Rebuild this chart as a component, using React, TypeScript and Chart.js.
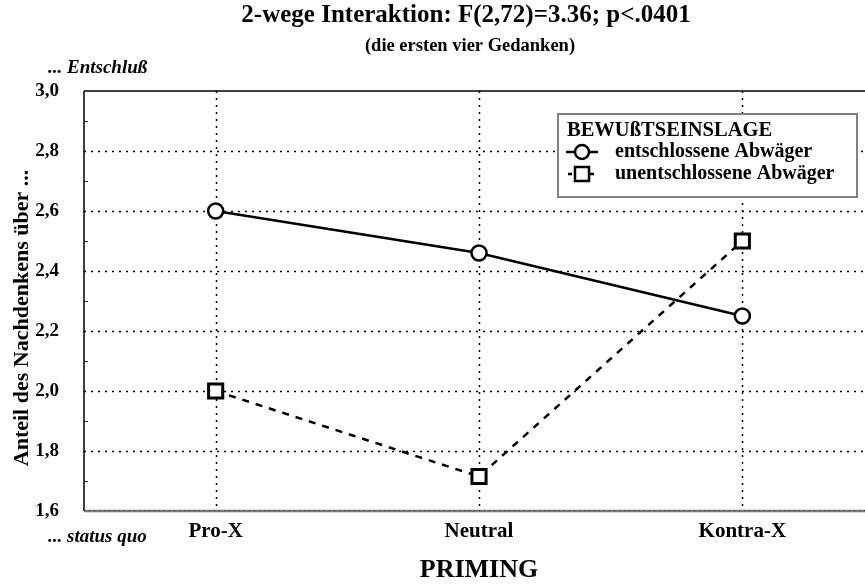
import React, { useEffect, useRef } from "react";
import { Chart, registerables } from "chart.js";

Chart.register(...registerables);

const categories = ["Pro-X", "Neutral", "Kontra-X"];
const entschlossene = [2.6, 2.46, 2.25];
const unentschlossene = [2.0, 1.715, 2.5];
const seriesLabels = ["entschlossene Abwäger", "unentschlossene Abwäger"];
const yMin = 1.6;
const yMax = 3.0;
const yStep = 0.2;
const titleText = "2-wege Interaktion: F(2,72)=3.36; p<.0401";
const subtitleText = "(die ersten vier Gedanken)";
const legendTitle = "BEWUßTSEINSLAGE";
const yAxisTitle = "Anteil des Nachdenkens über ...";
const xAxisTitle = "PRIMING";
const topNote = "... Entschluß";
const bottomNote = "... status quo";

const SERIF = '"Liberation Serif", "Times New Roman", serif';

const decorPlugin = {
  id: "decor",
  beforeDatasetsDraw(chart: any) {
    const ctx = chart.ctx;
    const area = chart.chartArea;
    const x = chart.scales.x;
    const y = chart.scales.y;
    ctx.save();
    ctx.strokeStyle = "#000";
    ctx.lineWidth = 1.5;
    ctx.setLineDash([2, 5]);
    for (let v = yMin + yStep; v < yMax - 1e-6; v += yStep) {
      const py = Math.round(y.getPixelForValue(v)) + 0.5;
      ctx.beginPath();
      ctx.moveTo(area.left, py);
      ctx.lineTo(area.right, py);
      ctx.stroke();
    }
    categories.forEach((_, i) => {
      const px = Math.round(x.getPixelForValue(i)) + 0.5;
      ctx.beginPath();
      ctx.moveTo(px, area.top);
      ctx.lineTo(px, area.bottom);
      ctx.stroke();
    });
    ctx.setLineDash([]);
    ctx.lineWidth = 1;
    ctx.strokeStyle = "#333";
    for (let v = yMin + yStep / 2; v < yMax; v += yStep) {
      const py = Math.round(y.getPixelForValue(v)) + 0.5;
      ctx.beginPath();
      ctx.moveTo(area.left, py);
      ctx.lineTo(area.left + 4, py);
      ctx.stroke();
    }
    ctx.strokeStyle = "#000";
    ctx.lineWidth = 1.5;
    ctx.beginPath();
    ctx.moveTo(area.left, area.top);
    ctx.lineTo(area.right, area.top);
    ctx.moveTo(area.left, area.top);
    ctx.lineTo(area.left, area.bottom);
    ctx.stroke();
    ctx.strokeStyle = "#7a7a7a";
    ctx.lineWidth = 2.5;
    ctx.beginPath();
    ctx.moveTo(area.left, area.bottom);
    ctx.lineTo(area.right, area.bottom);
    ctx.stroke();
    ctx.strokeStyle = "#333";
    ctx.lineWidth = 1;
    ctx.setLineDash([1, 4]);
    ctx.beginPath();
    ctx.moveTo(area.left, area.bottom - 0.5);
    ctx.lineTo(area.right, area.bottom - 0.5);
    ctx.stroke();
    ctx.restore();
  },
  afterDraw(chart: any) {
    const ctx = chart.ctx;
    const x = chart.scales.x;
    ctx.save();
    ctx.fillStyle = "#000";
    ctx.textAlign = "center";
    ctx.textBaseline = "middle";
    ctx.font = `bold 25px ${SERIF}`;
    ctx.fillText(titleText, 466, 16);
    ctx.font = `bold 18.5px ${SERIF}`;
    ctx.fillText(subtitleText, 470, 46);
    ctx.font = `bold 26px ${SERIF}`;
    ctx.fillText(xAxisTitle, x.getPixelForValue(1), 570);
    ctx.textAlign = "left";
    ctx.font = `italic bold 19px ${SERIF}`;
    ctx.fillText(topNote, 48, 68);
    ctx.fillText(bottomNote, 48, 537);
    ctx.save();
    ctx.translate(22, 318);
    ctx.rotate(-Math.PI / 2);
    ctx.textAlign = "center";
    ctx.font = `bold 22px ${SERIF}`;
    ctx.fillText(yAxisTitle, 0, 0);
    ctx.restore();
    // legend
    const bx = 558, by = 114, bw = 299, bh = 83;
    ctx.fillStyle = "#fff";
    ctx.fillRect(bx, by, bw, bh);
    ctx.strokeStyle = "#808080";
    ctx.lineWidth = 2;
    ctx.strokeRect(bx, by, bw, bh);
    ctx.fillStyle = "#000";
    ctx.textAlign = "left";
    ctx.font = `bold 20.5px ${SERIF}`;
    ctx.fillText(legendTitle, 567, 131);
    ctx.font = `bold 20px ${SERIF}`;
    const ds = chart.data.datasets;
    const rows = [152, 174];
    ds.forEach((d: any, i: number) => {
      const ry = rows[i];
      ctx.strokeStyle = "#000";
      ctx.lineWidth = 2.5;
      ctx.beginPath();
      if (d.borderDash) {
        ctx.moveTo(568, ry);
        ctx.lineTo(572, ry);
        ctx.moveTo(586, ry);
        ctx.lineTo(594, ry);
      } else {
        ctx.moveTo(566, ry);
        ctx.lineTo(598, ry);
      }
      ctx.stroke();
      ctx.fillStyle = "#fff";
      ctx.beginPath();
      if (d.pointStyle === "rect") {
        ctx.rect(575, ry - 7, 14, 14);
      } else {
        ctx.arc(582, ry, 7, 0, Math.PI * 2);
      }
      ctx.fill();
      ctx.stroke();
      ctx.fillStyle = "#000";
      ctx.fillText(d.label, 615, ry);
    });
    ctx.restore();
  },
};

export default function App() {
  const ref = useRef<HTMLCanvasElement>(null);
  useEffect(() => {
    if (!ref.current) return;
    const chart = new Chart(ref.current, {
      type: "line",
      data: {
        labels: categories,
        datasets: [
          {
            label: seriesLabels[0],
            data: entschlossene,
            borderColor: "#000",
            borderWidth: 2.5,
            pointStyle: "circle",
            pointRadius: 7.5,
            pointBorderWidth: 2.5,
            pointBackgroundColor: "#fff",
            pointBorderColor: "#000",
          },
          {
            label: seriesLabels[1],
            data: unentschlossene,
            borderColor: "#000",
            borderWidth: 2.5,
            borderDash: [7, 7],
            pointStyle: "rect",
            pointRadius: 10,
            pointBorderWidth: 3,
            pointBackgroundColor: "#fff",
            pointBorderColor: "#000",
          } as any,
        ],
      },
      options: {
        animation: false,
        responsive: true,
        maintainAspectRatio: false,
        layout: { padding: { top: 91, right: 16, left: 0, bottom: 0 } },
        plugins: { legend: { display: false }, title: { display: false }, tooltip: { enabled: false } },
        scales: {
          x: {
            type: "category",
            offset: true,
            grid: { display: false, drawTicks: false },
            border: { display: false },
            ticks: { color: "#000", font: { family: SERIF, size: 21, weight: "bold" }, padding: 8 },
            afterFit: (s: any) => { s.height = 75; },
          },
          y: {
            type: "linear",
            min: yMin,
            max: yMax,
            grid: { display: false, drawTicks: false },
            border: { display: false },
            ticks: {
              stepSize: yStep,
              color: "#000",
              padding: 25,
              font: { family: SERIF, size: 19, weight: "bold" },
              callback: (v: any) => Number(v).toFixed(1).replace(".", ","),
            },
            afterFit: (s: any) => { s.width = 84; },
          },
        },
      },
      plugins: [decorPlugin],
    });
    return () => chart.destroy();
  }, []);
  return (
    <div style={{ position: "fixed", left: 0, top: 0, width: 865, height: 586, overflow: "hidden", background: "#fff" }}>
      <div style={{ position: "absolute", left: 0, top: 0, width: 890, height: 586 }}>
        <canvas ref={ref} />
      </div>
    </div>
  );
}
